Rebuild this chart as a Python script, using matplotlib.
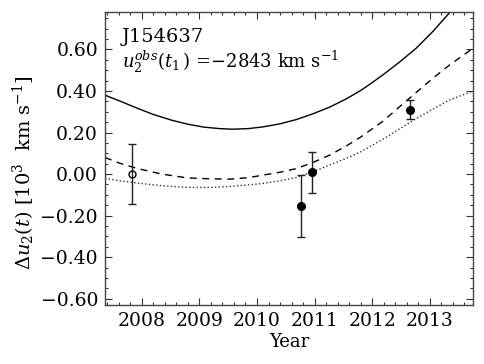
import numpy as np
import matplotlib
matplotlib.use('Agg')
import matplotlib.pyplot as plt
from matplotlib.ticker import MultipleLocator

plt.rcParams['font.family'] = 'DejaVu Serif'
plt.rcParams['mathtext.fontset'] = 'dejavuserif'

# model curves (year, delta u2 in 10^3 km/s)
solid_t = [2007.36, 2007.65, 2007.92, 2008.20, 2008.51, 2008.80, 2009.08, 2009.35,
           2009.57, 2009.85, 2010.10, 2010.40, 2010.69, 2010.97, 2011.26, 2011.55,
           2011.80, 2012.00, 2012.19, 2012.48, 2012.77, 2013.05, 2013.34]
solid_v = [0.380, 0.348, 0.317, 0.287, 0.260, 0.240, 0.226, 0.219,
           0.216, 0.219, 0.227, 0.242, 0.263, 0.290, 0.322, 0.362,
           0.402, 0.440, 0.478, 0.540, 0.607, 0.685, 0.775]

dash_t = [2007.36, 2007.62, 2007.92, 2008.35, 2008.78, 2009.20, 2009.55, 2009.85,
          2010.10, 2010.40, 2010.69, 2010.97, 2011.26, 2011.55, 2011.80, 2012.19,
          2012.48, 2012.77, 2013.05, 2013.34, 2013.75]
dash_v = [0.080, 0.052, 0.027, 0.000, -0.018, -0.023, -0.024, -0.017,
          -0.005, 0.009, 0.027, 0.056, 0.091, 0.135, 0.178, 0.255,
          0.325, 0.394, 0.460, 0.524, 0.605]

dot_t = [2007.36, 2007.62, 2007.92, 2008.35, 2008.78, 2009.20, 2009.55, 2009.85,
         2010.10, 2010.40, 2010.69, 2010.97, 2011.26, 2011.55, 2011.80, 2012.19,
         2012.48, 2012.77, 2013.05, 2013.34, 2013.75]
dot_v = [-0.021, -0.032, -0.043, -0.056, -0.064, -0.064, -0.059, -0.052,
         -0.045, -0.032, -0.016, 0.012, 0.043, 0.076, 0.107, 0.168,
         0.218, 0.268, 0.312, 0.356, 0.400]

# observations
open_t = [2007.83]
open_v = [0.00]
open_err = [0.145]
obs_t = [2010.76, 2010.95, 2012.65]
obs_v = [-0.155, 0.008, 0.310]
obs_err = [0.150, 0.100, 0.046]

fig = plt.figure(figsize=(4.85, 3.64), dpi=100)
ax = fig.add_axes([0.2165, 0.162, 0.7585, 0.805])

ax.plot(solid_t, solid_v, '-', color='black', lw=1.0)
ax.plot(dash_t, dash_v, '--', color='black', lw=1.0, dashes=(5, 4))
ax.plot(dot_t, dot_v, ':', color='#333333', lw=1.0)

ax.errorbar(open_t, open_v, yerr=open_err, fmt='o', mfc='none', mec='black',
            ms=5, ecolor='#222222', elinewidth=1.0, capsize=3, capthick=1.0)
ax.errorbar(obs_t, obs_v, yerr=obs_err, fmt='o', color='black',
            ms=5.5, ecolor='#222222', elinewidth=1.0, capsize=3, capthick=1.0)

ax.set_xlim(2007.36, 2013.75)
ax.set_ylim(-0.63, 0.78)
ax.xaxis.set_major_locator(MultipleLocator(1))
ax.xaxis.set_minor_locator(MultipleLocator(0.2))
ax.yaxis.set_major_locator(MultipleLocator(0.2))
ax.yaxis.set_minor_locator(MultipleLocator(0.05))
ax.xaxis.set_major_formatter(plt.FuncFormatter(lambda v, p: '%d' % round(v)))
ax.yaxis.set_major_formatter(plt.FuncFormatter(lambda v, p: ('%.2f' % v).replace('-', '\u2212')))
ax.tick_params(which='both', direction='in', top=True, right=True, labelsize=13.5, colors='#333333',
               labelcolor='black')
ax.tick_params(which='major', length=5, width=0.8, pad=5)
ax.tick_params(which='minor', length=2.5, width=0.8)
for s in ax.spines.values():
    s.set_color('#444444')
    s.set_linewidth(1.0)

ax.set_xlabel('Year', fontsize=13, labelpad=2)
ax.set_ylabel(r'$\Delta u_2(t)$ [10$^3$  km s$^{-1}$]', fontsize=14)
ax.yaxis.set_label_coords(-0.185, 0.45)

ax.text(0.045, 0.945, 'J154637', transform=ax.transAxes, fontsize=14, va='top', ha='left')
ax.text(0.045, 0.875, r'$u_2^{obs}(t_1\,)$ =$-$2843 km s$^{-1}$', transform=ax.transAxes,
        fontsize=13, va='top', ha='left')

fig.savefig('out.png', dpi=100)
